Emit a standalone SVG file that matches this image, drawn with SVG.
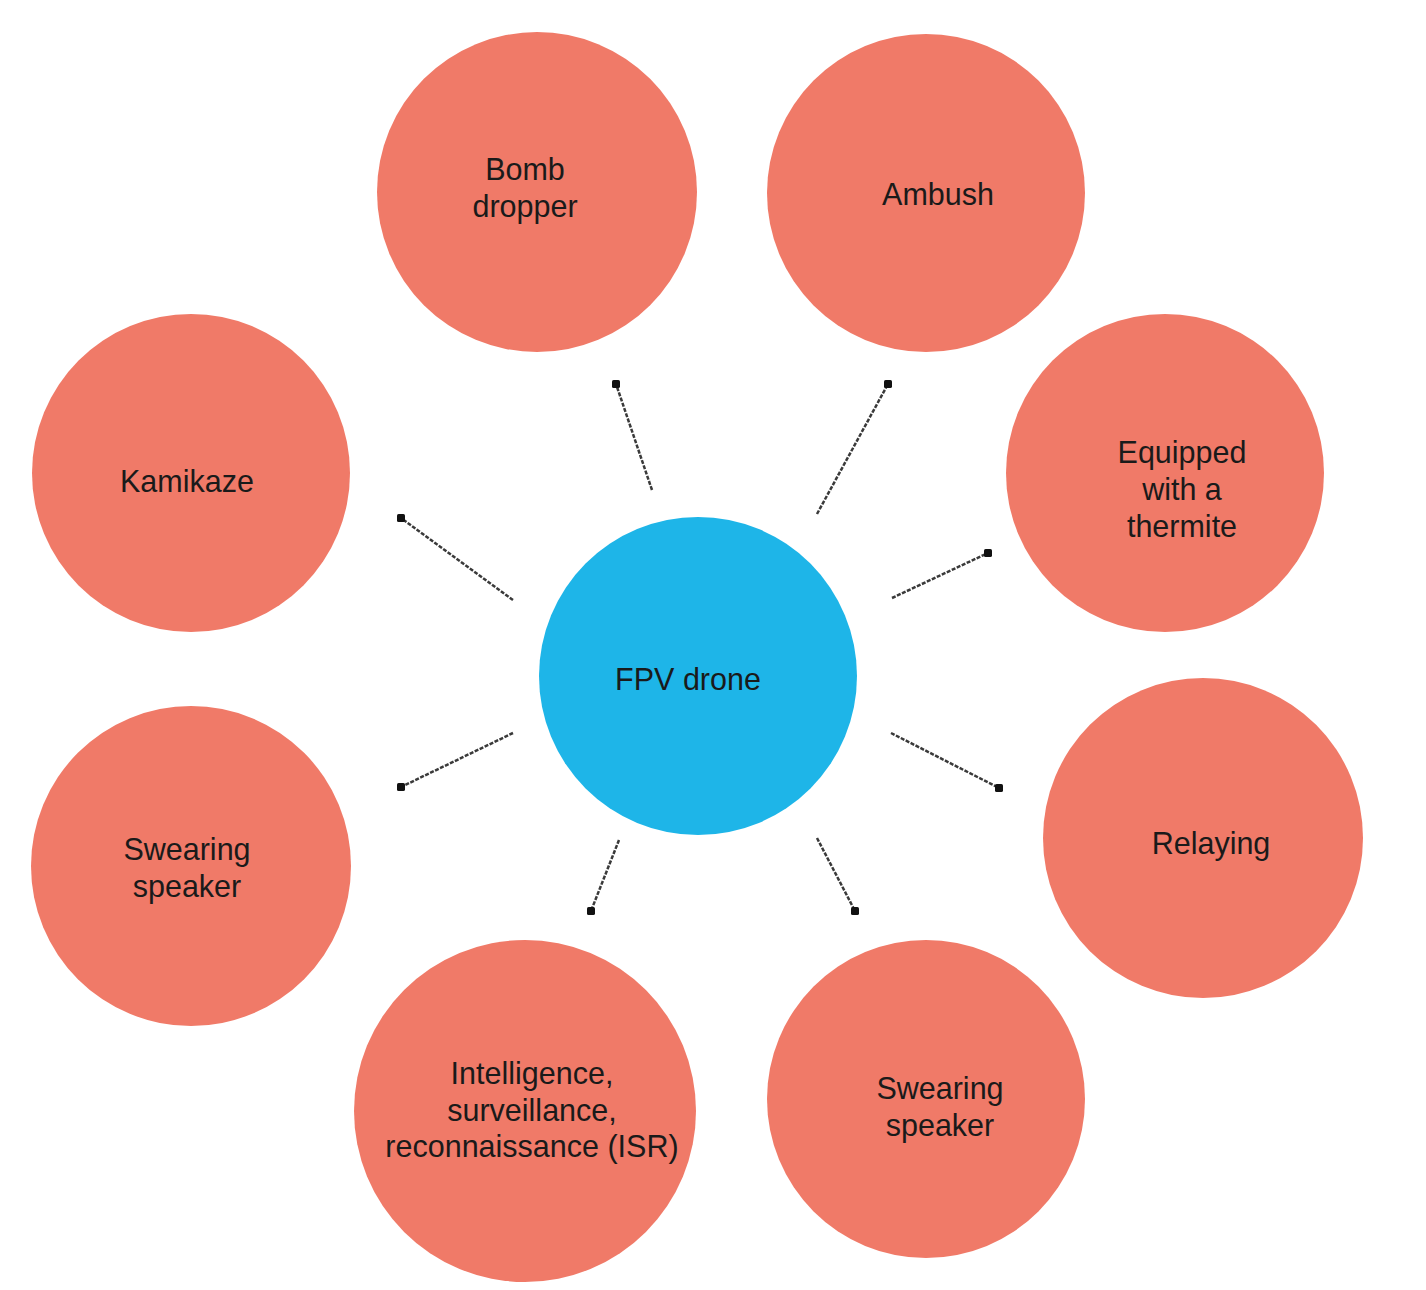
<svg xmlns="http://www.w3.org/2000/svg" width="1426" height="1290" viewBox="0 0 1426 1290">
<style>
.n{fill:#F07A68}
.c{fill:#1EB5E8}
.t{font-family:"Liberation Sans",Arial,sans-serif;font-size:30.5px;fill:#1a1a1a;text-anchor:middle}
.e{stroke:#3a3a3a;stroke-width:2.5;fill:none;stroke-dasharray:4 1.5;marker-end:url(#dot)}
</style>
<defs>
<marker id="dot" viewBox="0 0 10 10" refX="5" refY="5" markerWidth="3.2" markerHeight="3.2" markerUnits="strokeWidth">
<rect x="0" y="0" width="10" height="10" rx="2" fill="#111"/>
</marker>
</defs>
<rect width="1426" height="1290" fill="#fff"/>
<g id="connectors">
<line class="e" x1="652" y1="490" x2="616" y2="384"/>
<line class="e" x1="817" y1="514" x2="888" y2="384"/>
<line class="e" x1="513" y1="600" x2="401" y2="518"/>
<line class="e" x1="892" y1="598" x2="988" y2="553"/>
<line class="e" x1="513" y1="733" x2="401" y2="787"/>
<line class="e" x1="891" y1="733" x2="999" y2="788"/>
<line class="e" x1="619" y1="840" x2="591" y2="911"/>
<line class="e" x1="817" y1="838" x2="855" y2="911"/>
</g>
<g id="center">
<circle class="c" cx="698" cy="676" r="159"/>
<text class="t" x="688" y="690">FPV drone</text>
</g>
<g id="bomb">
<circle class="n" cx="537" cy="192" r="160"/>
<text class="t" x="525" y="180">Bomb</text>
<text class="t" x="525" y="217">dropper</text>
</g>
<g id="ambush">
<circle class="n" cx="926" cy="193" r="159"/>
<text class="t" x="938" y="205">Ambush</text>
</g>
<g id="kamikaze">
<circle class="n" cx="191" cy="473" r="159"/>
<text class="t" x="187" y="492">Kamikaze</text>
</g>
<g id="thermite">
<circle class="n" cx="1165" cy="473" r="159"/>
<text class="t" x="1182" y="463">Equipped</text>
<text class="t" x="1182" y="500">with a</text>
<text class="t" x="1182" y="537">thermite</text>
</g>
<g id="speaker-left">
<circle class="n" cx="191" cy="866" r="160"/>
<text class="t" x="187" y="860">Swearing</text>
<text class="t" x="187" y="897">speaker</text>
</g>
<g id="relaying">
<circle class="n" cx="1203" cy="838" r="160"/>
<text class="t" x="1211" y="854">Relaying</text>
</g>
<g id="isr">
<circle class="n" cx="525" cy="1111" r="171"/>
<text class="t" x="532" y="1084">Intelligence,</text>
<text class="t" x="532" y="1121">surveillance,</text>
<text class="t" x="532" y="1157">reconnaissance (ISR)</text>
</g>
<g id="speaker-right">
<circle class="n" cx="926" cy="1099" r="159"/>
<text class="t" x="940" y="1099">Swearing</text>
<text class="t" x="940" y="1136">speaker</text>
</g>
</svg>
